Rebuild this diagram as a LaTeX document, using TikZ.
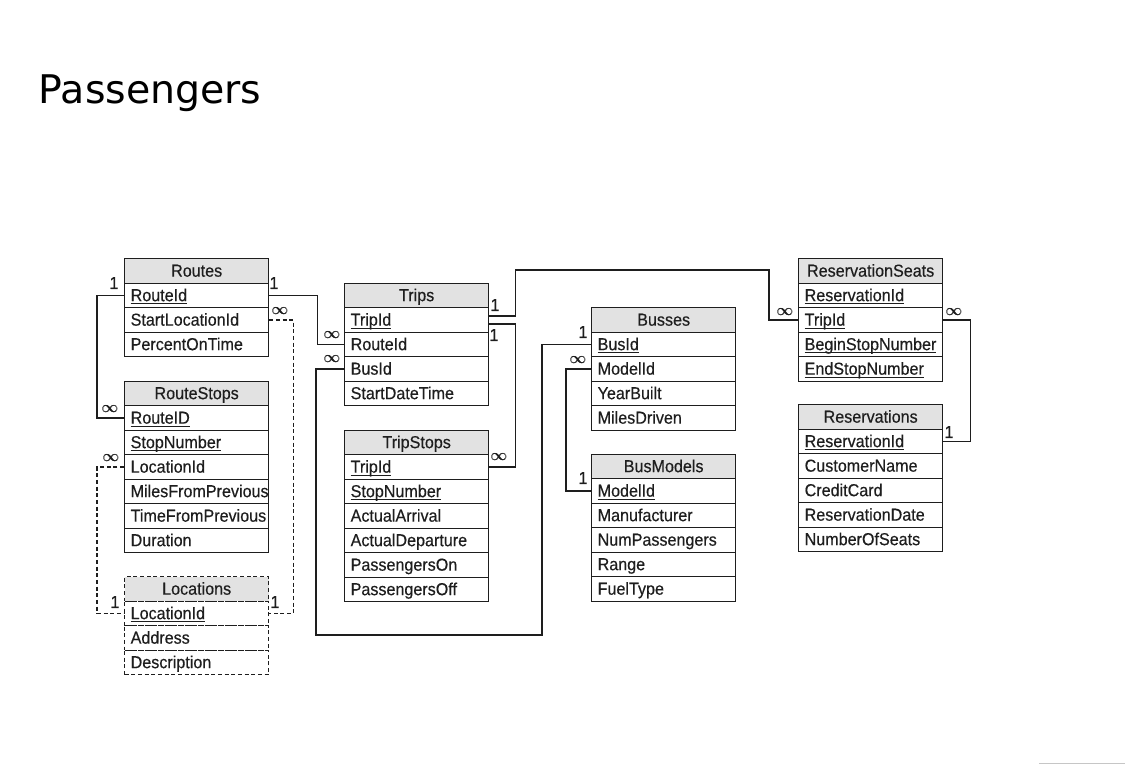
\documentclass[tikz,border=0pt]{standalone}
\usepackage{fontspec}
\setmainfont{Liberation Sans}
\newfontfamily\tabfont[FakeStretch=0.93,FakeBold=0.4]{Liberation Sans}
\newfontfamily\titlefont{DejaVu Sans}
\definecolor{ink}{HTML}{1E1E1E}
\definecolor{hdrgray}{HTML}{E2E2E2}
\newsavebox\keybox
\newcommand\key[1]{\sbox\keybox{#1}\rlap{\rule[-2.2pt]{\wd\keybox}{0.75pt}}\usebox\keybox}
\newcommand\tblfont{\tabfont\fontsize{13pt}{15pt}\selectfont}
\newcommand\infsym{{\fontsize{12.5pt}{13pt}\selectfont\rlap{$\infty$}\rlap{\raisebox{0.3pt}{$\infty$}}\kern0.4pt$\infty$}}
\newcommand\dbtable[6][]{%
  \node[hdr,#1] (#2-0) at (#3,#4) {#5};
  \foreach \ftxt [count=\i] in {#6} {
    \node[fld,#1] (#2-\i) at (#3,#4+\i*24.5) {\makebox[99pt][l]{\ftxt}};
  }%
}
\tikzset{
  cell/.style={draw=ink, line width=1pt, anchor=north west, minimum height=18.375pt,
    inner ysep=0pt, text height=11pt, text depth=2.4pt, font=\tblfont, text=ink},
  hdr/.style={cell, fill=hdrgray, minimum width=108pt, inner xsep=0pt, text width=108pt, align=center},
  fld/.style={cell, minimum width=108pt, inner xsep=4.5pt},
  card/.style={font=\tblfont, text=ink, inner sep=0pt},
  conn/.style={draw=ink, line width=1.2pt},
  dconn/.style={conn, dash pattern=on 3pt off 2pt},
  dtab/.style={dash pattern=on 3pt off 2pt}
}
\begin{document}
\begin{tikzpicture}[x=0.75pt, y=-0.75pt]
\useasboundingbox (0,0) rectangle (1125,765);
\node[anchor=base west, inner sep=0pt, font=\titlefont\fontsize{29.6pt}{35pt}\selectfont] (title) at (38.5,103.5) {Passengers};

\dbtable{Routes}{124}{258}{Routes}{\key{RouteId},StartLocationId,PercentOnTime}
\dbtable{RouteStops}{124}{380.5}{RouteStops}{\key{RouteID},\key{StopNumber},LocationId,MilesFromPrevious,TimeFromPrevious,Duration}
\dbtable[dtab]{Locations}{124}{576}{Locations}{\key{LocationId},Address,Description}
\dbtable{Trips}{344}{282.5}{Trips}{\key{TripId},RouteId,BusId,StartDateTime}
\dbtable{TripStops}{344}{429.5}{TripStops}{\key{TripId},\key{StopNumber},ActualArrival,ActualDeparture,PassengersOn,PassengersOff}
\dbtable{Busses}{591}{307}{Busses}{\key{BusId},ModelId,YearBuilt,MilesDriven}
\dbtable{BusModels}{591}{453.5}{BusModels}{\key{ModelId},Manufacturer,NumPassengers,Range,FuelType}
\dbtable{ResSeats}{798}{258}{ReservationSeats}{\key{ReservationId},\key{TripId},\key{BeginStopNumber},\key{EndStopNumber}}
\dbtable{Reservations}{798}{404}{Reservations}{\key{ReservationId},CustomerName,CreditCard,ReservationDate,NumberOfSeats}

% connectors
\coordinate (c5) at (542,635);
\coordinate (c6) at (769,270);
\draw[conn] (Routes-1.west) -- ++(-27,0) |- (RouteStops-1.west);
\draw[conn] (Routes-1.east) -- ++(48,0) |- (Trips-2.west);
\draw[dconn] (Routes-2.east) -- ++(24,0) |- (Locations-1.east);
\draw[dconn] (RouteStops-3.west) -- ++(-27,0) |- (Locations-1.west);
\draw[conn] (Trips-3.west) -- ++(-28,0) |- (c5) |- (Busses-1.west);
\draw[conn] ([yshift=3pt]Trips-1.east) -- ++(26,0) |- (c6) |- (ResSeats-2.west);
\draw[conn] ([yshift=-3pt]Trips-1.east) -- ++(26,0) |- (TripStops-1.east);
\draw[conn] (Busses-2.west) -- ++(-25,0) |- (BusModels-1.west);
\draw[conn] (ResSeats-2.east) -- ++(27,0) |- (Reservations-1.east);

% cardinalities
\node[card] (k1) at (114,283) {1};
\node[card] (k2) at (110,409) {\infsym};
\node[card] (k3) at (274,283) {1};
\node[card] (k4) at (280,311) {\infsym};
\node[card] (k5) at (332,335) {\infsym};
\node[card] (k6) at (332,359) {\infsym};
\node[card] (k7) at (495,305) {1};
\node[card] (k8) at (494,335) {1};
\node[card] (k9) at (111,458) {\infsym};
\node[card] (k10) at (115,602) {1};
\node[card] (k11) at (275,602) {1};
\node[card] (k12) at (499,457) {\infsym};
\node[card] (k13) at (583,332) {1};
\node[card] (k14) at (578,360) {\infsym};
\node[card] (k15) at (785,312) {\infsym};
\node[card] (k16) at (954,312) {\infsym};
\node[card] (k17) at (949,432) {1};
\node[card] (k18) at (583,478) {1};

\draw[gray!45, line width=1.2pt] (1039,763.5) -- (1125,763.5);
\end{tikzpicture}
\end{document}
